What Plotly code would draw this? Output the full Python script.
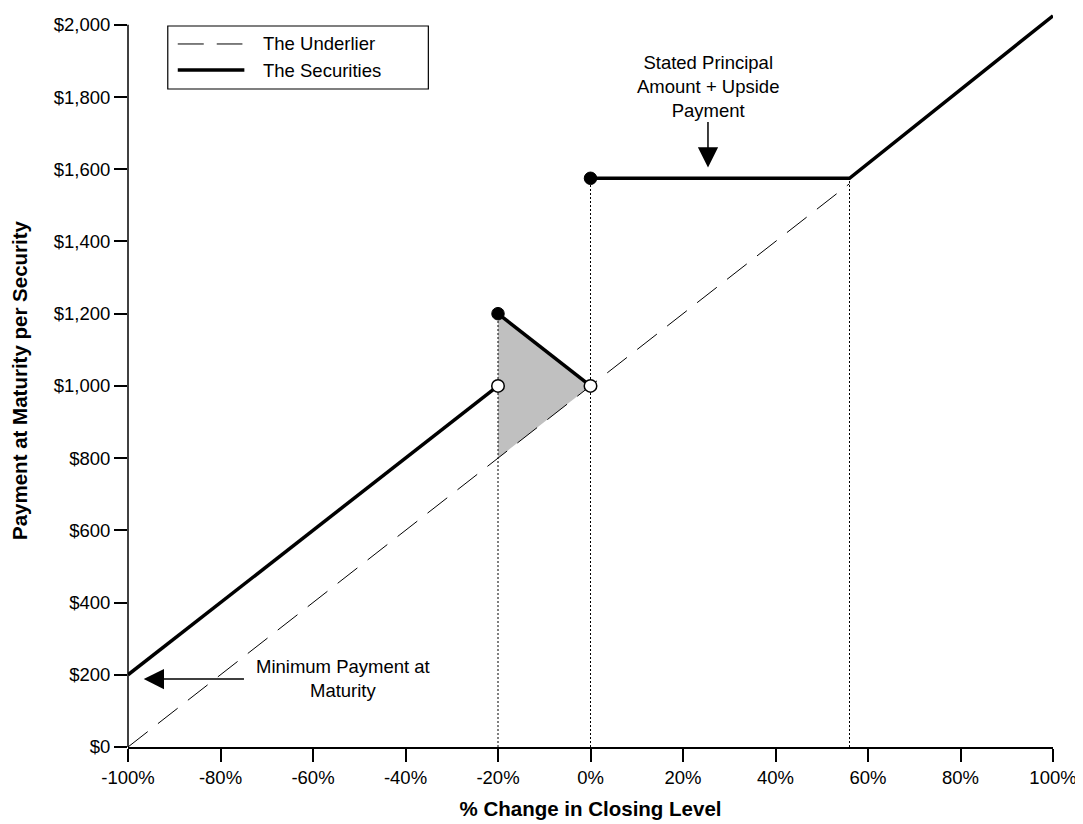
import plotly.graph_objects as go

# ---- data ----
underlier_x = [-100, 56]
underlier_y = [0, 1560]

sec_x = [-100, -20, None, -20, 0, None, 0, 56, 100]
sec_y = [200, 1000, None, 1200, 1000, None, 1575, 1575, 2025]

filled_x = [-20, 0]
filled_y = [1200, 1575]
open_x = [-20, 0]
open_y = [1000, 1000]

shade_x = [-20, 0, -20, -20]
shade_y = [1200, 1000, 800, 1200]

guide_x = [-20, -20, None, 0, 0, None, 56, 56]
guide_y = [0, 1200, None, 0, 1575, None, 0, 1575]

x_ticks = [-100, -80, -60, -40, -20, 0, 20, 40, 60, 80, 100]
x_ticklabels = ["-100%", "-80%", "-60%", "-40%", "-20%", "0%", "20%", "40%", "60%", "80%", "100%"]
y_ticks = [0, 200, 400, 600, 800, 1000, 1200, 1400, 1600, 1800, 2000]
y_ticklabels = ["$0", "$200", "$400", "$600", "$800", "$1,000", "$1,200", "$1,400", "$1,600", "$1,800", "$2,000"]

legend_names = ["The Underlier", "The Securities"]

FONT = "Liberation Sans, Arial, sans-serif"
TXT = 18.5

fig = go.Figure()
fig.add_trace(go.Scatter(x=shade_x, y=shade_y, fill="toself", fillcolor="#c0c0c0",
                         line=dict(width=0), mode="lines", showlegend=False, hoverinfo="skip"))
fig.add_trace(go.Scatter(x=guide_x, y=guide_y, mode="lines",
                         line=dict(color="black", width=1, dash="2px,2px"),
                         showlegend=False, hoverinfo="skip"))
fig.add_trace(go.Scatter(x=underlier_x, y=underlier_y, mode="lines", name=legend_names[0],
                         line=dict(color="black", width=1, dash="25px,13px"), showlegend=False))
fig.add_trace(go.Scatter(x=sec_x, y=sec_y, mode="lines", name=legend_names[1],
                         line=dict(color="black", width=3.5), showlegend=False))
fig.add_trace(go.Scatter(x=filled_x, y=filled_y, mode="markers", showlegend=False,
                         marker=dict(size=12.5, color="black", line=dict(color="black", width=1))))
fig.add_trace(go.Scatter(x=open_x, y=open_y, mode="markers", showlegend=False,
                         marker=dict(size=12.5, color="white", line=dict(color="black", width=1.5))))

annotations = [
    dict(x=25.4, y=1828, xref="x", yref="y", showarrow=False,
         text="Stated Principal<br>Amount + Upside<br>Payment",
         font=dict(family=FONT, size=TXT, color="black"), align="center"),
    dict(x=25.4, y=1605, ax=25.4, ay=1735, xref="x", yref="y", axref="x", ayref="y",
         text="", showarrow=True, arrowhead=2, arrowsize=2.7, arrowwidth=1.5, arrowcolor="black"),
    dict(x=-53.5, y=191, xref="x", yref="y", showarrow=False,
         text="Minimum Payment at<br>Maturity",
         font=dict(family=FONT, size=TXT, color="black"), align="center"),
    dict(x=-96.6, y=188, ax=-74.6, ay=188, xref="x", yref="y", axref="x", ayref="y",
         text="", showarrow=True, arrowhead=2, arrowsize=2.7, arrowwidth=1.5, arrowcolor="black"),
    # legend text
    dict(x=0.1441, y=0.9591, xref="paper", yref="paper", xanchor="left", yanchor="middle",
         showarrow=False, text=legend_names[0], font=dict(family=FONT, size=TXT, color="black")),
    dict(x=0.1441, y=0.9236, xref="paper", yref="paper", xanchor="left", yanchor="middle",
         showarrow=False, text=legend_names[1], font=dict(family=FONT, size=TXT, color="black")),
]

shapes = [
    # y axis line (ends at $2,000)
    dict(type="line", xref="paper", yref="y", x0=0, x1=0, y0=0, y1=2000,
         line=dict(color="black", width=1.5), layer="above"),
    # legend box and samples
    dict(type="rect", xref="paper", yref="paper", x0=0.0430, x1=0.3247, y0=0.8977, y1=0.9836,
         line=dict(color="black", width=1.2), fillcolor="white", layer="above"),
    dict(type="line", xref="paper", yref="paper", x0=0.0538, x1=0.1237, y0=0.9591, y1=0.9591,
         line=dict(color="black", width=1, dash="26px,13px"), layer="above"),
    dict(type="line", xref="paper", yref="paper", x0=0.0538, x1=0.1258, y0=0.9236, y1=0.9236,
         line=dict(color="black", width=3.5), layer="above"),
]

fig.update_layout(
    width=1075, height=816,
    margin=dict(l=120, r=25, t=6, b=77),
    paper_bgcolor="white", plot_bgcolor="white",
    font=dict(family=FONT, size=TXT, color="black"),
    annotations=annotations,
    shapes=shapes,
    showlegend=False,
)
fig.update_xaxes(range=[-100, 100], tickvals=x_ticks, ticktext=x_ticklabels,
                 showgrid=False, zeroline=False, showline=True, linecolor="black", linewidth=1.5,
                 ticks="outside", ticklen=13, tickwidth=1.5, tickcolor="black",
                 tickfont=dict(size=TXT),
                 title=dict(text="<b>% Change in Closing Level</b>", font=dict(size=20.5), standoff=15))
fig.update_yaxes(range=[0, 2030], tickvals=y_ticks, ticktext=y_ticklabels,
                 showgrid=False, zeroline=False, showline=False,
                 ticks="outside", ticklen=13, tickwidth=1.5, tickcolor="black",
                 tickfont=dict(size=TXT),
                 title=dict(text="<b>Payment at Maturity per Security</b>", font=dict(size=20.5), standoff=21))

fig.write_html("out.html")
